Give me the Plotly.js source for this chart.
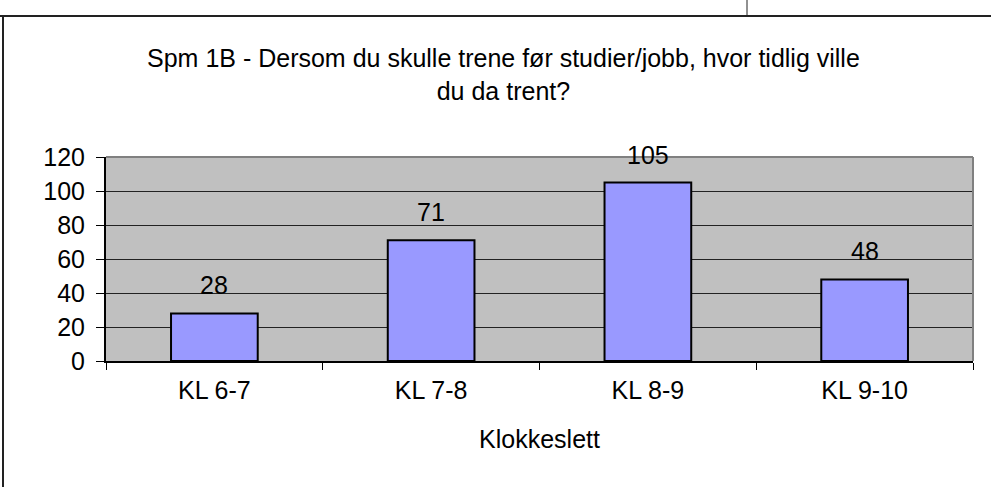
<!DOCTYPE html>
<html>
<head>
<meta charset="utf-8">
<script src="https://cdn.plot.ly/plotly-3.0.1.min.js"></script>
<style>
html,body{margin:0;padding:0;background:#fff;}
#chart{width:991px;height:487px;}
</style>
</head>
<body>
<div id="chart"></div>
<script>
const categories = ["KL 6-7", "KL 7-8", "KL 8-9", "KL 9-10"];
const values = [28, 71, 105, 48];
const yTicks = [0, 20, 40, 60, 80, 100, 120];
const titleText = "Spm 1B - Dersom du skulle trene før studier/jobb, hvor tidlig ville<br>du da trent?";
const xTitle = "Klokkeslett";

const W = 991, H = 487;
const L = 106, R = 973, T = 157, B = 361;
const px = v => (v - L) / (R - L);
const py = v => (B - v) / (B - T);

const font = {family: "Liberation Sans, Arial, sans-serif", size: 25, color: "#000"};

const trace = {
  type: "bar",
  x: categories,
  y: values,
  marker: {color: "#9999ff", line: {color: "#000", width: 2}},
  width: 0.4,
  hoverinfo: "none"
};

const annotations = categories.map((c, i) => ({
  x: c, y: values[i], xref: "x", yref: "y",
  text: String(values[i]), showarrow: false,
  yanchor: "bottom", yshift: 12, font: font
}));

const shapes = [
  {type: "line", xref: "paper", yref: "paper", x0: 0, x1: 1, y0: 1, y1: 1, line: {color: "#808080", width: 2}},
  {type: "line", xref: "paper", yref: "paper", x0: 1, x1: 1, y0: 0, y1: 1, line: {color: "#808080", width: 2}},
  {type: "line", xref: "paper", yref: "paper", x0: px(0), x1: px(W), y0: py(16), y1: py(16), line: {color: "#222", width: 2}},
  {type: "line", xref: "paper", yref: "paper", x0: px(3), x1: px(3), y0: py(16), y1: py(H), line: {color: "#222", width: 2}},
  {type: "line", xref: "paper", yref: "paper", x0: px(747), x1: px(747), y0: py(0), y1: py(16), line: {color: "#222", width: 1}}
];

const layout = {
  width: W, height: H,
  margin: {l: L, r: W - R, t: T, b: H - B},
  paper_bgcolor: "#fff",
  plot_bgcolor: "#c0c0c0",
  showlegend: false,
  font: font,
  title: {text: titleText, font: font, x: 0.508, xanchor: "center", y: 1 - 67 / H, yanchor: "top", yref: "container"},
  xaxis: {
    type: "category",
    range: [-0.5, 3.5],
    showline: true, linecolor: "#000", linewidth: 2,
    ticks: "outside", ticklen: 7, tickcolor: "#000", tickwidth: 1,
    tickson: "boundaries",
    ticklabelstandoff: 6,
    showgrid: false,
    tickfont: font,
    title: {text: xTitle, font: font, standoff: 27}
  },
  yaxis: {
    range: [0, 120],
    tickvals: yTicks,
    ticktext: yTicks.map(String),
    showline: true, linecolor: "#000", linewidth: 2,
    ticks: "outside", ticklen: 8, tickcolor: "#000", tickwidth: 1,
    ticklabelstandoff: 6,
    showgrid: true, gridcolor: "#222", gridwidth: 1,
    zeroline: false,
    tickfont: font
  },
  annotations: annotations,
  shapes: shapes
};

Plotly.newPlot("chart", [trace], layout, {displayModeBar: false, staticPlot: true});
</script>
</body>
</html>
